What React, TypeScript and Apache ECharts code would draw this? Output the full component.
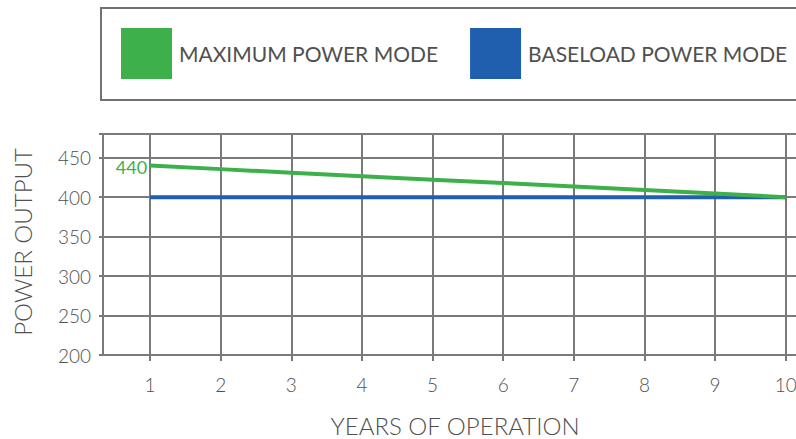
import React, { useEffect, useRef } from "react";
import * as echarts from "echarts";

const years = [1, 2, 3, 4, 5, 6, 7, 8, 9, 10];
const maxPower = [440, 435.5, 431, 426.5, 422, 418, 413.5, 409, 404.5, 400];
const baseloadPower = [400, 400, 400, 400, 400, 400, 400, 400, 400, 400];
const yTicks = [200, 250, 300, 350, 400, 450];
const seriesNames = ["MAXIMUM POWER MODE", "BASELOAD POWER MODE"];
const xTitle = "YEARS OF OPERATION";
const yTitle = "POWER OUTPUT";

const FONT = "Lato, 'Open Sans', sans-serif";
const TEXT = "#505050";
const GRID = "#7a7a7a";
const GREEN = "#3db04b";
const BLUE = "#1f5fae";

export default function App() {
  const ref = useRef<HTMLDivElement>(null);
  useEffect(() => {
    if (!ref.current) return;
    const chart = echarts.init(ref.current, null, { renderer: "svg" });
    const option: any = {
      animation: false,
      backgroundColor: "#ffffff",
      textStyle: { fontFamily: FONT },
      grid: {
        left: 103,
        top: 134,
        height: 221,
        width: 718,
        show: true,
        borderColor: GRID,
        borderWidth: 2,
        backgroundColor: "transparent",
      },
      legend: {
        data: seriesNames,
        left: 121,
        top: 28,
        padding: 0,
        icon: "rect",
        itemWidth: 51,
        itemHeight: 51,
        itemGap: 32,
        textStyle: {
          fontFamily: FONT,
          fontSize: 21,
          fontWeight: 400,
          color: TEXT,
          width: 259,
          padding: [0, 0, 0, 2],
        },
      },
      xAxis: {
        type: "value",
        min: 1 / 3,
        max: 10.5,
        axisLine: { show: true, lineStyle: { color: GRID, width: 2 } },
        axisTick: {
          show: true,
          customValues: years,
          length: 6,
          lineStyle: { color: GRID, width: 2 },
        },
        axisLabel: {
          customValues: years,
          fontFamily: FONT,
          fontSize: 19,
          fontWeight: 300,
          color: TEXT,
          margin: 20,
        },
        splitLine: { show: true, lineStyle: { color: GRID, width: 2 } },
      },
      yAxis: {
        type: "value",
        min: 200,
        max: 480,
        interval: 50,
        axisLine: { show: true, lineStyle: { color: GRID, width: 2 } },
        axisTick: { show: true, length: 4, lineStyle: { color: GRID, width: 2 } },
        axisLabel: {
          fontFamily: FONT,
          fontSize: 19,
          fontWeight: 300,
          color: TEXT,
          margin: 12,
          formatter: (v: number) => (yTicks.includes(v) ? String(v) : ""),
        },
        splitLine: { show: true, lineStyle: { color: GRID, width: 2 } },
      },
      graphic: [
        {
          type: "rect",
          shape: { x: 101, y: 8, width: 730, height: 92 },
          style: { fill: "none", stroke: "#727272", lineWidth: 2 },
          silent: true,
        },
        {
          type: "text",
          x: 455,
          y: 425,
          style: {
            text: xTitle,
            fontFamily: FONT,
            fontSize: 24,
            fontWeight: 300,
            fill: TEXT,
            textAlign: "center",
            textVerticalAlign: "middle",
          },
        },
        {
          type: "text",
          x: 22,
          y: 242,
          rotation: Math.PI / 2,
          style: {
            text: yTitle,
            fontFamily: FONT,
            fontSize: 24,
            fontWeight: 300,
            fill: TEXT,
            textAlign: "center",
            textVerticalAlign: "middle",
          },
        },
      ],
      series: [
        {
          name: seriesNames[1],
          type: "line",
          data: years.map((y, i) => [y, baseloadPower[i]]),
          showSymbol: false,
          symbol: "none",
          lineStyle: { color: BLUE, width: 4 },
          itemStyle: { color: BLUE },
          z: 3,
        },
        {
          name: seriesNames[0],
          type: "line",
          data: years.map((y, i) =>
            i === 0
              ? {
                  value: [y, maxPower[i]],
                  label: {
                    show: true,
                    position: "left",
                    distance: 3,
                    offset: [0, 1],
                    color: GREEN,
                    fontFamily: FONT,
                    fontSize: 18,
                    formatter: String(maxPower[i]),
                  },
                }
              : [y, maxPower[i]]
          ),
          showSymbol: true,
          symbol: "circle",
          symbolSize: 0.01,
          lineStyle: { color: GREEN, width: 4 },
          itemStyle: { color: GREEN },
          z: 4,
        },
      ],
    };
    chart.setOption(option);
    return () => chart.dispose();
  }, []);
  return (
    <div
      style={{
        position: "fixed",
        left: 0,
        top: 0,
        width: 796,
        height: 439,
        overflow: "hidden",
      }}
    >
      <div ref={ref} style={{ width: 840, height: 439 }} />
    </div>
  );
}
